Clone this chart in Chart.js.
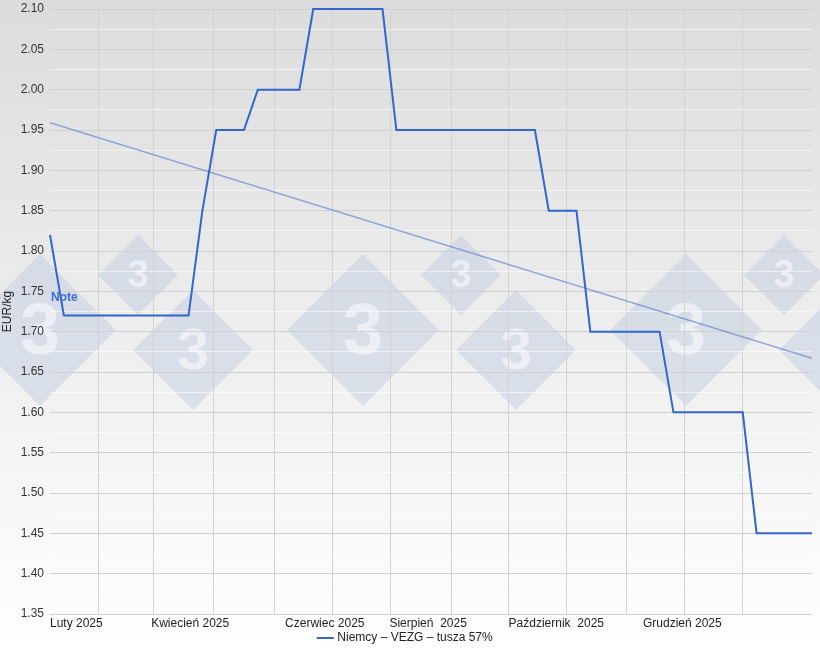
<!DOCTYPE html>
<html>
<head>
<meta charset="utf-8">
<script src="https://cdn.jsdelivr.net/npm/chart.js@4/dist/chart.umd.min.js"></script>
<style>
  html, body { margin: 0; padding: 0; background: #fff; }
  #wrap { width: 820px; height: 648px; }
</style>
</head>
<body>
<div id="wrap"><canvas id="priceChart" width="820" height="648"></canvas></div>
<script>
// Weekly prices, EUR/kg (week index 0..55)
const prices = [
    1.82,
    1.72, 1.72, 1.72, 1.72, 1.72, 1.72, 1.72, 1.72, 1.72, 1.72,
    1.85,
    1.95, 1.95, 1.95,
    2.00, 2.00, 2.00, 2.00,
    2.10, 2.10, 2.10, 2.10, 2.10, 2.10,
    1.95, 1.95, 1.95, 1.95, 1.95, 1.95, 1.95, 1.95, 1.95, 1.95, 1.95,
    1.85, 1.85, 1.85,
    1.70, 1.70, 1.70, 1.70, 1.70, 1.70,
    1.60, 1.60, 1.60, 1.60, 1.60, 1.60,
    1.45, 1.45, 1.45, 1.45, 1.45
];

// Trend line ends
const trendValues = [1.959, 1.667];

// Month boundaries (in week units) for the vertical grid
const monthGrid = [3.47, 7.44, 11.8, 16.2, 20.4, 24.6, 28.95, 33.1, 37.3, 41.6, 45.8, 50.0];

// X axis labels and where they start (week units)
const monthLabels = ['Luty 2025', 'Kwiecień 2025', 'Czerwiec 2025', 'Sierpień  2025', 'Październik  2025', 'Grudzień 2025'];
const labelWeeks = [0, 7.3, 16.97, 24.5, 33.1, 42.8];

const seriesName = 'Niemcy – VEZG – tusza 57%';
const lineColor = '#3366cc';
const font = '"Liberation Sans", Arial, sans-serif';

// background gradient + watermark diamonds
const backdrop = {
    id: 'backdrop',
    beforeDraw(chart) {
        const ctx = chart.ctx;
        const g = ctx.createLinearGradient(0, 0, 0, chart.height);
        g.addColorStop(0, '#dcdcdc');
        g.addColorStop(1, '#ffffff');
        ctx.save();
        ctx.fillStyle = g;
        ctx.fillRect(0, 0, chart.width, chart.height);

        const marks = [];
        [0, 323, 646].forEach(off => {
            marks.push([40 + off, 330, 76], [138 + off, 275, 40], [193 + off, 350, 60]);
        });
        marks.forEach(([cx, cy, r]) => {
            ctx.fillStyle = 'rgba(185, 200, 222, 0.42)';
            ctx.beginPath();
            ctx.moveTo(cx, cy - r);
            ctx.lineTo(cx + r, cy);
            ctx.lineTo(cx, cy + r);
            ctx.lineTo(cx - r, cy);
            ctx.closePath();
            ctx.fill();
            ctx.fillStyle = 'rgba(255, 255, 255, 0.5)';
            ctx.font = 'bold ' + Math.round(r * 0.95) + 'px ' + font;
            ctx.textAlign = 'center';
            ctx.textBaseline = 'middle';
            ctx.fillText('3', cx, cy + r * 0.05);
        });
        ctx.restore();
    }
};

// "Note" annotation
const noteLabel = {
    id: 'noteLabel',
    afterDatasetsDraw(chart) {
        const ctx = chart.ctx;
        const x = chart.scales.x.getPixelForValue(0);
        const y = chart.scales.y.getPixelForValue(1.742);
        ctx.save();
        ctx.font = 'bold 12px ' + font;
        ctx.fillStyle = '#3d6ad6';
        ctx.textAlign = 'left';
        ctx.textBaseline = 'middle';
        ctx.fillText('Note', x + 1, y);
        ctx.restore();
    }
};

new Chart(document.getElementById('priceChart'), {
    type: 'line',
    data: {
        datasets: [{
            label: seriesName,
            data: prices.map((v, i) => ({ x: i, y: v })),
            borderColor: lineColor,
            backgroundColor: lineColor,
            borderWidth: 2,
            pointRadius: 0,
            tension: 0,
            clip: false,
            fill: false
        }, {
            label: 'trend',
            data: [{ x: 0, y: trendValues[0] }, { x: prices.length - 1, y: trendValues[1] }],
            borderColor: 'rgba(51, 102, 204, 0.5)',
            borderWidth: 1.5,
            pointRadius: 0,
            fill: false
        }]
    },
    plugins: [backdrop, noteLabel],
    options: {
        responsive: false,
        animation: false,
        layout: { padding: { top: 0, right: 8, left: 0, bottom: -6 } },
        plugins: {
            tooltip: { enabled: false },
            legend: {
                position: 'bottom',
                labels: {
                    filter: item => item.datasetIndex === 0,
                    usePointStyle: true,
                    pointStyle: 'line',
                    boxWidth: 18,
                    padding: 0,
                    color: '#222',
                    font: { family: font, size: 12 }
                }
            }
        },
        scales: {
            x: {
                type: 'linear',
                min: 0,
                max: prices.length - 1,
                afterBuildTicks: scale => { scale.ticks = monthGrid.map(v => ({ value: v })); },
                afterFit: scale => { scale.height = 0; },
                ticks: { display: false },
                grid: { color: '#d2d2d2', drawTicks: false },
                border: { display: false }
            },
            x2: {
                type: 'linear',
                position: 'bottom',
                min: 0,
                max: prices.length - 1,
                afterBuildTicks: scale => { scale.ticks = labelWeeks.map(v => ({ value: v })); },
                afterFit: scale => { scale.height = 18; },
                ticks: {
                    align: 'start',
                    maxRotation: 0,
                    autoSkip: false,
                    padding: 2,
                    color: '#222',
                    font: { family: font, size: 12 },
                    callback: (v, i) => monthLabels[i]
                },
                grid: { display: false, drawTicks: false },
                border: { display: false }
            },
            y: {
                min: 1.35,
                max: 2.10,
                afterFit: scale => { scale.width = 50; scale.paddingTop = 9; scale.paddingBottom = 0; },
                ticks: {
                    stepSize: 0.025,
                    autoSkip: false,
                    padding: 6,
                    color: '#333',
                    font: { family: font, size: 12 },
                    callback: v => (Math.round(v * 1000) % 50 === 0 ? v.toFixed(2) : '')
                },
                grid: {
                    drawTicks: false,
                    color: c => (Math.round(c.tick.value * 1000) % 50 === 0 ? '#d0d0d0' : 'rgba(255,255,255,0.55)')
                },
                border: { display: false },
                title: {
                    display: true,
                    text: 'EUR/kg',
                    color: '#222',
                    padding: 0,
                    font: { family: font, size: 12 }
                }
            }
        }
    }
});
</script>
</body>
</html>
